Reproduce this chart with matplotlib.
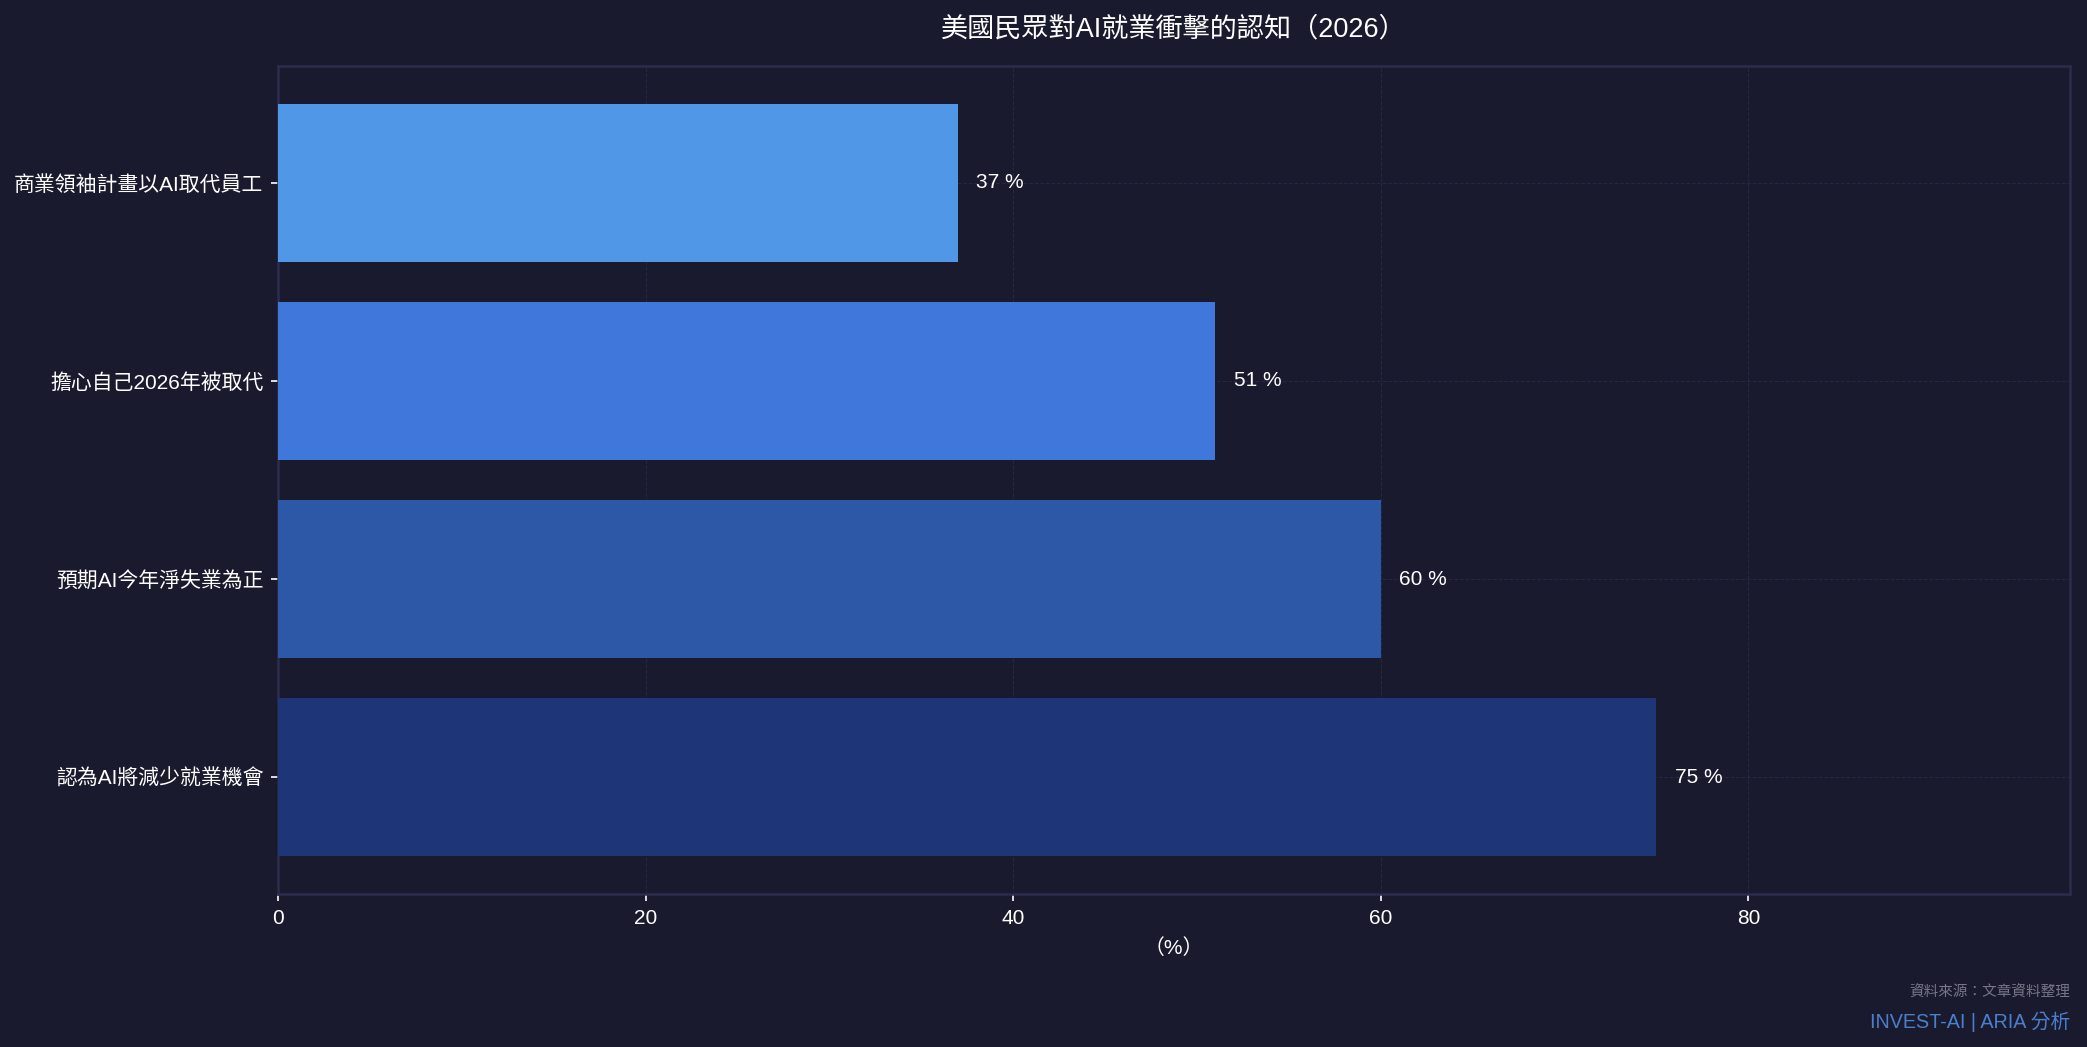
import matplotlib
matplotlib.use('Agg')
import matplotlib.pyplot as plt

plt.rcParams['font.family'] = ['Liberation Sans', 'Noto Sans CJK TC', 'DejaVu Sans']

categories = ['認為AI將減少就業機會', '預期AI今年淨失業為正', '擔心自己2026年被取代', '商業領袖計畫以AI取代員工']
values = [75, 60, 51, 37]
colors = ['#1e3678', '#2d58a8', '#3f78da', '#5097e8']

bg = '#1a1a2e'
fig = plt.figure(figsize=(2087 / 150, 1047 / 150), dpi=150, facecolor=bg)
ax = fig.add_axes([278 / 2087, 1 - 894 / 1047, (2070 - 278) / 2087, (894 - 66) / 1047])
ax.set_facecolor(bg)

bars = ax.barh(categories, values, color=colors, height=0.8, zorder=3)
for b, v in zip(bars, values):
    ax.text(b.get_width() + 1.0, b.get_y() + b.get_height() / 2, f'{v} %',
            va='center', ha='left', color='white', fontsize=10)

ax.set_xlim(0, max(values) * 1.3)
ax.set_xticks([0, 20, 40, 60, 80])
ax.set_xlabel('（%）', color='white', fontsize=10, labelpad=5)
ax.set_title('美國民眾對AI就業衝擊的認知（2026）', color='white', fontsize=13, pad=14)

ax.tick_params(colors='white', labelsize=10)
ax.grid(True, color='#2a2a45', linestyle='--', linewidth=0.5, alpha=0.8, zorder=0)
for s in ax.spines.values():
    s.set_color('#2c2c4c')
    s.set_linewidth(1.2)

fig.text(2070 / 2087, 1 - 993 / 1047, '資料來源：文章資料整理', ha='right', va='center',
         color='#777788', fontsize=7)
fig.text(2070 / 2087, 1 - 1022 / 1047, 'INVEST-AI | ARIA 分析', ha='right', va='center',
         color='#4a7fcc', fontsize=9.5)

fig.savefig('out.png', dpi=150, facecolor=bg)
